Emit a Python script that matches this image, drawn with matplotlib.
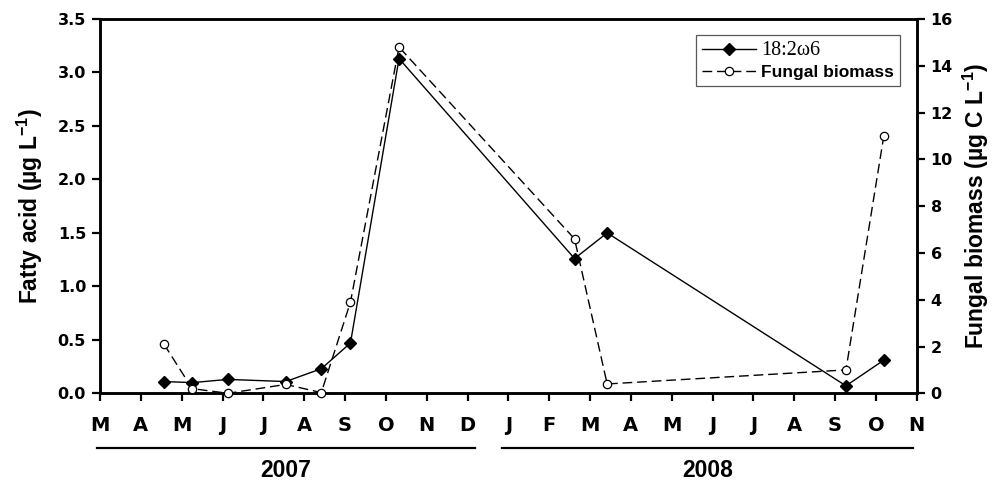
import calendar
import matplotlib
matplotlib.use('Agg')
import matplotlib.pyplot as plt
import pandas as pd

# sampling dates and values
sample_dates = ['2007-04-18', '2007-05-09', '2007-06-05', '2007-07-18', '2007-08-14',
                '2007-09-05', '2007-10-11', '2008-02-19', '2008-03-14', '2008-09-09',
                '2008-10-07']
fatty_acid = [0.11, 0.10, 0.13, 0.11, 0.23, 0.47, 3.13, 1.26, 1.50, 0.07, 0.31]
fungal_biomass = [2.1, 0.2, 0.0, 0.38, 0.03, 3.9, 14.8, 6.6, 0.4, 1.0, 11.0]

month_labels = ['M', 'A', 'M', 'J', 'J', 'A', 'S', 'O', 'N', 'D',
                'J', 'F', 'M', 'A', 'M', 'J', 'J', 'A', 'S', 'O', 'N']
years = ['2007', '2008']
year_spans = [(-0.08, 9.18), (9.84, 19.92)]

left_ticks = [0, 0.5, 1.0, 1.5, 2.0, 2.5, 3.0, 3.5]
right_ticks = [0, 2, 4, 6, 8, 10, 12, 14, 16]

plt.rcParams['mathtext.fontset'] = 'custom'
plt.rcParams['mathtext.rm'] = 'Liberation Sans:bold'
plt.rcParams['mathtext.default'] = 'rm'
sans = 'Liberation Sans'
tick_font = 'DejaVu Sans'
ink = 'black'


def month_pos(s):
    # months since 1 March 2007, every month the same width
    d = pd.Timestamp(s)
    ndays = calendar.monthrange(d.year, d.month)[1]
    return (d.year - 2007) * 12 + d.month - 3 + (d.day - 1) / ndays


x = [month_pos(s) for s in sample_dates]

fig, ax = plt.subplots(figsize=(10.02, 4.82), dpi=100)
fig.subplots_adjust(left=0.0998, right=0.9149, bottom=0.184, top=0.9606)
ax2 = ax.twinx()

l1, = ax.plot(x, fatty_acid, color=ink, lw=1.0, marker='D', ms=6.5,
              mfc=ink, mec=ink, clip_on=False, zorder=3, label='18:2\u03c96')
l2, = ax2.plot(x, fungal_biomass, color=ink, lw=1.0, ls=(0, (7, 3.5)), marker='o',
               ms=6, mfc='white', mec=ink, mew=0.9, clip_on=False, zorder=3,
               label='Fungal biomass')

ax.set_xlim(0, 20)
ax.set_ylim(0, 3.5)
ax2.set_ylim(0, 16)

ax.set_xticks(range(len(month_labels)))
ax.set_xticklabels(month_labels, family=tick_font, weight='bold', fontsize=14)
ax.set_yticks(left_ticks)
ax.set_yticklabels(['%.1f' % v for v in left_ticks], family=tick_font,
                   weight='bold', fontsize=11.5)
ax2.set_yticks(right_ticks)
ax2.set_yticklabels([str(v) for v in right_ticks], family=tick_font,
                    weight='bold', fontsize=11.5)

ax.tick_params(axis='x', direction='out', length=6, width=1.6, pad=10, colors=ink)
ax.tick_params(axis='y', direction='out', length=6, width=1.6, pad=4, colors=ink)
ax2.tick_params(axis='y', direction='out', length=6, width=1.6, pad=4, colors=ink)

for a in (ax, ax2):
    for sp in a.spines.values():
        sp.set_linewidth(1.8)
        sp.set_color(ink)

ax.set_ylabel('Fatty acid (\u00b5g L$^{-1}$)', family=sans, weight='bold',
              fontsize=16.5, labelpad=9)
ax2.set_ylabel('Fungal biomass (\u00b5g C L$^{-1}$)', family=sans, weight='bold',
               fontsize=16.5, labelpad=6)

# year bars under the month letters
for yr, (x0, x1) in zip(years, year_spans):
    ax.plot([x0, x1], [-0.146, -0.146], color=ink, lw=1.6, clip_on=False,
            transform=ax.get_xaxis_transform())
    ax.text((x0 + x1) / 2, -0.205, yr, transform=ax.get_xaxis_transform(),
            ha='center', va='center', family=sans, weight='bold', fontsize=16.5)

leg = ax2.legend([l1, l2], ['18:2\u03c96', 'Fungal biomass'], loc='upper right',
                 bbox_to_anchor=(0.9796, 0.957), borderaxespad=0, numpoints=1,
                 handlelength=3.1, handletextpad=0.3, borderpad=0.35,
                 labelspacing=0.25, fancybox=False, framealpha=1,
                 prop={'family': sans, 'weight': 'bold', 'size': 12.5})
leg.get_frame().set_edgecolor('0.35')
leg.get_frame().set_linewidth(0.9)
leg.get_texts()[0].set_fontfamily('Liberation Serif')
leg.get_texts()[0].set_fontweight('normal')
leg.get_texts()[0].set_fontsize(14.5)

fig.savefig('out.png', dpi=100)
